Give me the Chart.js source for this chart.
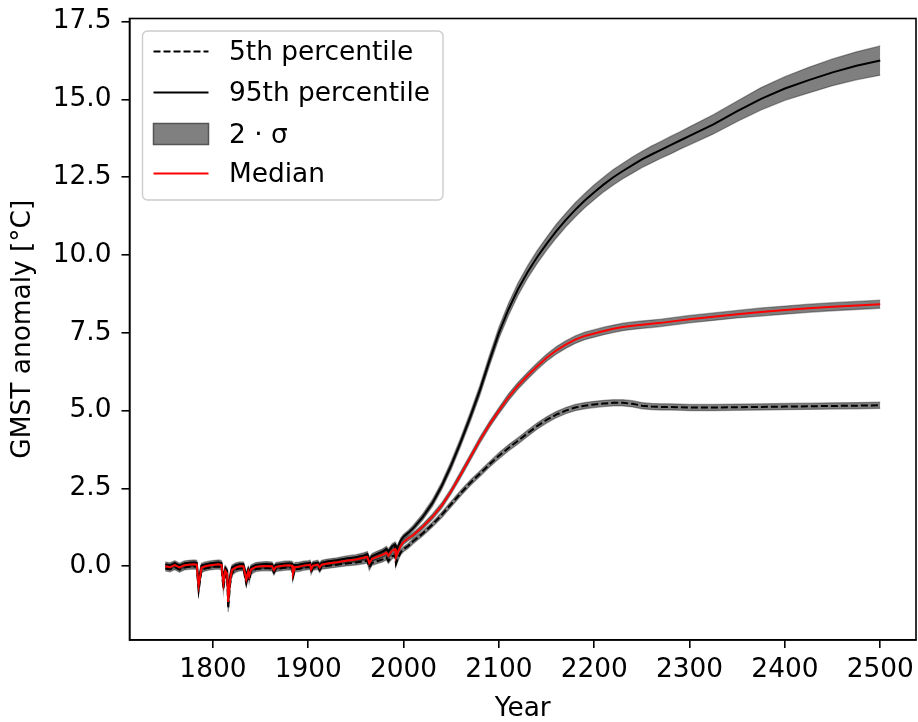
<!DOCTYPE html>
<html><head><meta charset="utf-8">
<script src="https://cdn.jsdelivr.net/npm/chart.js@4.4.1/dist/chart.umd.min.js"></script>
<style>html,body{margin:0;padding:0;background:#fff}canvas{display:block}</style>
</head><body>
<canvas id="c" width="918" height="722"></canvas>
<script>
// ---- data ----
const years = [
  1750,1755,1760,1765,1770,1775,1780,1783,1785,1788,
  1792,1797,1802,1806,1809,1811,1813,1815,1816,1818,
  1820,1824,1828,1832,1835,1837,1838,1840,1845,1850,
  1856,1862,1864,1866,1870,1875,1880,1883,1884,1886,
  1890,1895,1900,1902,1903,1905,1910,1912,1914,1920,
  1930,1940,1950,1958,1962,1964,1967,1972,1978,1982,
  1984,1988,1991,1992,1994,1997,2000,2005,2010,
  2020,2030,2040,2050,2060,2070,2080,2090,2100,2110,
  2120,2130,2140,2150,2160,2170,2180,2190,2200,2210,
  2220,2230,2240,2250,2260,2270,2280,2290,2300,
  2325,2350,2375,2400,2425,2450,2475,2500
];
const median = [
  0.00,-0.03,0.04,-0.04,0.03,0.05,0.06,0.05,-0.62,-0.05,
  0.00,0.03,0.05,0.06,0.04,-0.55,-0.15,-0.25,-1.15,-0.45,
  -0.12,-0.04,0.00,0.00,-0.42,-0.18,-0.32,-0.10,-0.02,0.00,
  0.01,0.00,-0.12,-0.02,0.00,0.02,0.03,0.02,-0.24,-0.03,
  -0.02,0.02,0.04,0.05,-0.10,0.02,0.05,-0.04,0.05,0.09,
  0.13,0.18,0.22,0.27,0.30,0.10,0.24,0.30,0.37,0.44,
  0.34,0.50,0.55,0.30,0.45,0.66,0.78,0.90,1.00,
  1.27,1.58,1.95,2.42,2.95,3.50,4.05,4.55,5.00,5.43,
  5.80,6.12,6.42,6.70,6.93,7.12,7.28,7.40,7.48,7.56,
  7.63,7.69,7.73,7.76,7.79,7.82,7.86,7.90,7.94,
  8.02,8.10,8.17,8.23,8.29,8.34,8.38,8.42
];
const pct5 = [
  -0.07,-0.10,-0.03,-0.11,-0.04,-0.02,-0.01,-0.02,-0.78,-0.13,
  -0.07,-0.04,-0.02,-0.01,-0.03,-0.72,-0.25,-0.35,-1.35,-0.58,
  -0.21,-0.11,-0.07,-0.07,-0.55,-0.27,-0.45,-0.18,-0.09,-0.07,
  -0.06,-0.07,-0.20,-0.09,-0.07,-0.05,-0.04,-0.05,-0.34,-0.10,
  -0.09,-0.05,-0.03,-0.02,-0.18,-0.05,-0.02,-0.12,-0.02,0.01,
  0.05,0.09,0.12,0.16,0.18,-0.04,0.11,0.16,0.22,0.28,
  0.17,0.32,0.36,0.08,0.25,0.45,0.55,0.66,0.80,
  1.05,1.33,1.65,2.00,2.35,2.68,2.97,3.27,3.55,3.80,
  4.03,4.27,4.50,4.70,4.87,5.00,5.10,5.16,5.20,5.23,
  5.25,5.25,5.22,5.16,5.13,5.12,5.12,5.11,5.10,
  5.10,5.11,5.12,5.13,5.14,5.15,5.16,5.17
];
const pct95 = [
  0.06,0.03,0.10,0.02,0.09,0.11,0.12,0.11,-0.48,0.02,
  0.06,0.09,0.11,0.12,0.10,-0.42,-0.06,-0.15,-0.98,-0.33,
  -0.04,0.03,0.06,0.06,-0.30,-0.10,-0.22,-0.03,0.04,0.06,
  0.07,0.06,-0.05,0.04,0.06,0.08,0.09,0.08,-0.15,0.04,
  0.05,0.08,0.10,0.11,-0.02,0.08,0.11,0.03,0.11,0.15,
  0.19,0.25,0.29,0.35,0.39,0.20,0.33,0.40,0.48,0.56,
  0.47,0.64,0.70,0.46,0.62,0.83,0.95,1.08,1.22,
  1.58,2.02,2.58,3.25,4.00,4.80,5.65,6.60,7.50,8.25,
  8.90,9.45,9.93,10.36,10.76,11.12,11.45,11.75,12.02,12.27,
  12.50,12.70,12.89,13.07,13.23,13.38,13.53,13.68,13.83,
  14.20,14.62,15.02,15.35,15.62,15.87,16.08,16.25
];
// 2-sigma half widths around each line
const sigMedian = [
  0.08,0.08,0.08,0.08,0.08,0.08,0.08,0.08,0.10,0.08,
  0.08,0.08,0.08,0.08,0.08,0.10,0.08,0.08,0.12,0.09,
  0.08,0.08,0.08,0.08,0.09,0.08,0.09,0.08,0.08,0.08,
  0.08,0.08,0.08,0.08,0.08,0.08,0.08,0.08,0.09,0.08,
  0.08,0.08,0.08,0.08,0.08,0.08,0.08,0.08,0.08,0.08,
  0.08,0.08,0.08,0.08,0.08,0.09,0.08,0.08,0.08,0.08,
  0.08,0.08,0.08,0.09,0.08,0.08,0.08,0.08,0.08,
  0.08,0.09,0.09,0.09,0.10,0.10,0.10,0.10,0.10,0.11,
  0.11,0.11,0.11,0.11,0.12,0.12,0.12,0.12,0.12,0.12,
  0.12,0.12,0.12,0.12,0.12,0.12,0.12,0.12,0.12,
  0.12,0.12,0.13,0.13,0.13,0.13,0.13,0.13
];
const sigPct5 = [
  0.08,0.08,0.08,0.08,0.08,0.08,0.08,0.08,0.10,0.08,
  0.08,0.08,0.08,0.08,0.08,0.10,0.08,0.08,0.12,0.09,
  0.08,0.08,0.08,0.08,0.09,0.08,0.09,0.08,0.08,0.08,
  0.08,0.08,0.08,0.08,0.08,0.08,0.08,0.08,0.09,0.08,
  0.08,0.08,0.08,0.08,0.08,0.08,0.08,0.08,0.08,0.08,
  0.08,0.08,0.08,0.08,0.08,0.09,0.08,0.08,0.08,0.08,
  0.08,0.08,0.08,0.09,0.08,0.08,0.08,0.08,0.08,
  0.08,0.08,0.09,0.09,0.09,0.09,0.09,0.09,0.10,0.10,
  0.10,0.10,0.10,0.10,0.10,0.10,0.10,0.10,0.10,0.10,
  0.10,0.10,0.10,0.10,0.10,0.10,0.10,0.10,0.10,
  0.10,0.10,0.10,0.10,0.10,0.10,0.10,0.10
];
const sigPct95 = [
  0.08,0.08,0.08,0.08,0.08,0.08,0.08,0.08,0.10,0.08,
  0.08,0.08,0.08,0.08,0.08,0.10,0.08,0.08,0.12,0.09,
  0.08,0.08,0.08,0.08,0.09,0.08,0.09,0.08,0.08,0.08,
  0.08,0.08,0.08,0.08,0.08,0.08,0.08,0.08,0.09,0.08,
  0.08,0.08,0.08,0.08,0.08,0.08,0.08,0.08,0.08,0.08,
  0.08,0.08,0.08,0.08,0.08,0.09,0.08,0.08,0.08,0.08,
  0.08,0.08,0.08,0.09,0.08,0.08,0.08,0.08,0.09,
  0.10,0.11,0.12,0.13,0.14,0.15,0.16,0.17,0.18,0.19,
  0.20,0.20,0.21,0.21,0.22,0.22,0.23,0.23,0.24,0.24,
  0.25,0.25,0.26,0.26,0.27,0.27,0.28,0.28,0.29,
  0.31,0.33,0.36,0.38,0.41,0.43,0.45,0.47
];
const xTicks = [1800,1900,2000,2100,2200,2300,2400,2500];
const yTicks = [0,2.5,5,7.5,10,12.5,15,17.5];
const legendLabels = ['5th percentile','95th percentile','2 \u00b7 \u03c3','Median'];
const xTitle = 'Year';
const yTitle = 'GMST anomaly [\u00b0C]';

// ---- styling ----
const FONT = 'DejaVu Sans';
const FS = 26.4;
const LW = 2;
const AXW = 1.6;
const bandFill = 'rgba(0,0,0,0.5)';
const bandEdge = 'rgba(0,0,0,0.35)';

const pts = a => years.map((x,i)=>({x, y:a[i]}));
const upper = (a,s) => years.map((x,i)=>({x, y:a[i]+s[i]}));
const lower = (a,s) => years.map((x,i)=>({x, y:a[i]-s[i]}));
function band(a,s){
  return [
    {data:upper(a,s), borderColor:bandEdge, borderWidth:1.3, backgroundColor:bandFill, fill:'+1', pointRadius:0, order:5},
    {data:lower(a,s), borderColor:bandEdge, borderWidth:1.3, backgroundColor:bandFill, fill:false, pointRadius:0, order:5}
  ];
}
const datasets = [
  {label:legendLabels[3], data:pts(median), borderColor:'#ff0000', borderWidth:LW, pointRadius:0, fill:false, order:0},
  {label:legendLabels[1], data:pts(pct95), borderColor:'#000000', borderWidth:LW, pointRadius:0, fill:false, order:1},
  {label:legendLabels[0], data:pts(pct5), borderColor:'#000000', borderWidth:LW, borderDash:[7,3], pointRadius:0, fill:false, order:2},
  ...band(pct95, sigPct95),
  ...band(median, sigMedian),
  ...band(pct5, sigPct5)
];

const framePlugin = {
  id:'frame',
  afterDraw(chart){
    const {ctx, chartArea:a} = chart;
    ctx.save();
    ctx.strokeStyle = '#000'; ctx.lineWidth = AXW;
    ctx.strokeRect(a.left, a.top, a.right-a.left, a.bottom-a.top);
    ctx.restore();
  }
};
const legendPlugin = {
  id:'boxLegend',
  afterDraw(chart){
    const {ctx, chartArea:a} = chart;
    const x0 = a.left + 13, y0 = a.top + 12.5, w = 300.5, h = 169;
    ctx.save();
    ctx.beginPath();
    ctx.roundRect(x0, y0, w, h, 5);
    ctx.fillStyle = 'rgba(255,255,255,0.8)'; ctx.fill();
    ctx.strokeStyle = '#cccccc'; ctx.lineWidth = 1.4; ctx.stroke();
    const rows = [a.top+33, a.top+74, a.top+115.5, a.top+155];
    const hx0 = a.left + 24, hx1 = a.left + 79;
    ctx.strokeStyle = '#000'; ctx.lineWidth = LW;
    ctx.setLineDash([7,3]);
    ctx.beginPath(); ctx.moveTo(hx0, rows[0]); ctx.lineTo(hx1, rows[0]); ctx.stroke();
    ctx.setLineDash([]);
    ctx.beginPath(); ctx.moveTo(hx0, rows[1]); ctx.lineTo(hx1, rows[1]); ctx.stroke();
    ctx.fillStyle = '#808080'; ctx.fillRect(hx0, rows[2]-10.5, hx1-hx0, 21);
    ctx.strokeStyle = '#555555'; ctx.lineWidth = 1.5; ctx.strokeRect(hx0, rows[2]-10.5, hx1-hx0, 21);
    ctx.strokeStyle = '#ff0000'; ctx.lineWidth = LW;
    ctx.beginPath(); ctx.moveTo(hx0, rows[3]); ctx.lineTo(hx1, rows[3]); ctx.stroke();
    ctx.fillStyle = '#000';
    ctx.font = FS + 'px "' + FONT + '"';
    ctx.textBaseline = 'middle'; ctx.textAlign = 'left';
    legendLabels.forEach((t,i)=>ctx.fillText(t, a.left + 99.5, rows[i]+2));
    ctx.restore();
  }
};

new Chart(document.getElementById('c'), {
  type:'line',
  data:{datasets},
  options:{
    responsive:false, animation:false, devicePixelRatio:1,
    layout:{padding:{left:0, right:2, top:18.5, bottom:0}},
    plugins:{legend:{display:false}, tooltip:{enabled:false}},
    elements:{line:{tension:0}},
    scales:{
      x:{
        type:'linear', min:1712.5, max:2537.5,
        afterBuildTicks: s => { s.ticks = xTicks.map(v=>({value:v})); },
        afterFit: s => { s.height = 82; s.paddingLeft = 0; s.paddingRight = 0; },
        ticks:{color:'#000', font:{family:FONT, size:FS}, padding:6, maxRotation:0, autoSkip:false, callback:v=>String(v)},
        grid:{display:true, drawOnChartArea:false, drawTicks:true, tickLength:8, color:'#000', lineWidth:AXW},
        border:{display:true, color:'#000', width:AXW},
        title:{display:true, text:xTitle, color:'#000', font:{family:FONT, size:FS}, padding:{top:0,bottom:-2.5}}
      },
      y:{
        type:'linear', min:-2.37, max:17.6,
        afterBuildTicks: s => { s.ticks = yTicks.map(v=>({value:v})); },
        afterFit: s => { s.width = 129.5; s.paddingTop = 0; s.paddingBottom = 0; },
        ticks:{color:'#000', font:{family:FONT, size:FS}, padding:10, autoSkip:false, callback:v=>v.toFixed(1)},
        grid:{display:true, drawOnChartArea:false, drawTicks:true, tickLength:8, color:'#000', lineWidth:AXW},
        border:{display:true, color:'#000', width:AXW},
        title:{display:true, text:yTitle, color:'#000', font:{family:FONT, size:FS}, padding:{top:7,bottom:0}}
      }
    }
  },
  plugins:[framePlugin, legendPlugin]
});
</script>
</body></html>
